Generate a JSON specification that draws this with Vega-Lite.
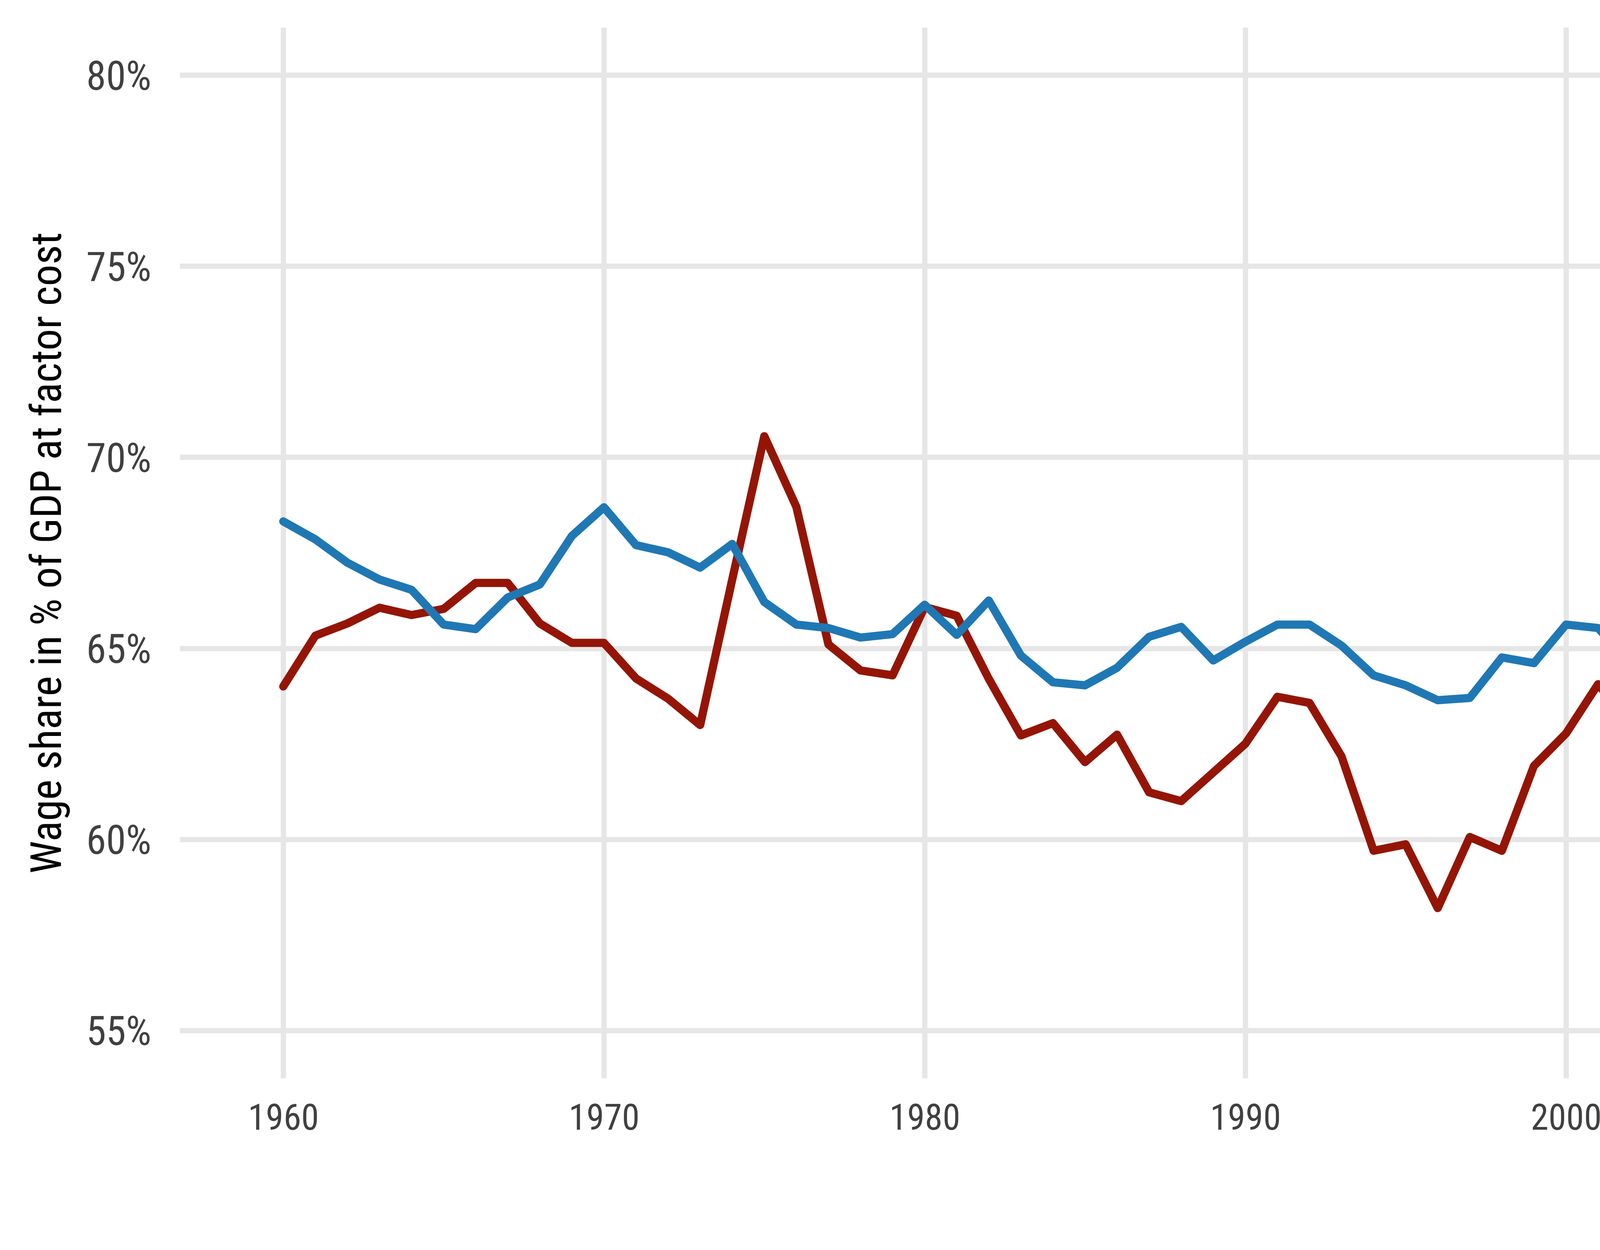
{
  "$schema": "https://vega.github.io/schema/vega-lite/v6.json",
  "width": 5869,
  "height": 2690,
  "autosize": {"type": "none"},
  "padding": {"left": 460, "top": 70, "right": 71, "bottom": 440},
  "background": "white",
  "config": {
    "font": "Roboto Condensed, DejaVu Sans Condensed, Liberation Sans Narrow, Roboto, sans-serif",
    "view": {"stroke": null}
  },
  "title": {
    "text": "Data: Ameco.",
    "orient": "bottom",
    "anchor": "end",
    "frame": "group",
    "fontSize": 74,
    "fontWeight": "normal",
    "color": "#000000",
    "offset": 84,
    "limit": 0
  },
  "data": {
    "values": [
      {"year": 1960, "country": "United Kingdom", "value": 64.0},
      {"year": 1961, "country": "United Kingdom", "value": 65.33},
      {"year": 1962, "country": "United Kingdom", "value": 65.65},
      {"year": 1963, "country": "United Kingdom", "value": 66.06},
      {"year": 1964, "country": "United Kingdom", "value": 65.87},
      {"year": 1965, "country": "United Kingdom", "value": 66.03},
      {"year": 1966, "country": "United Kingdom", "value": 66.71},
      {"year": 1967, "country": "United Kingdom", "value": 66.71},
      {"year": 1968, "country": "United Kingdom", "value": 65.65},
      {"year": 1969, "country": "United Kingdom", "value": 65.14},
      {"year": 1970, "country": "United Kingdom", "value": 65.14},
      {"year": 1971, "country": "United Kingdom", "value": 64.21},
      {"year": 1972, "country": "United Kingdom", "value": 63.68},
      {"year": 1973, "country": "United Kingdom", "value": 62.99},
      {"year": 1974, "country": "United Kingdom", "value": 66.8},
      {"year": 1975, "country": "United Kingdom", "value": 70.55},
      {"year": 1976, "country": "United Kingdom", "value": 68.7},
      {"year": 1977, "country": "United Kingdom", "value": 65.1},
      {"year": 1978, "country": "United Kingdom", "value": 64.42},
      {"year": 1979, "country": "United Kingdom", "value": 64.29},
      {"year": 1980, "country": "United Kingdom", "value": 66.08},
      {"year": 1981, "country": "United Kingdom", "value": 65.85},
      {"year": 1982, "country": "United Kingdom", "value": 64.2},
      {"year": 1983, "country": "United Kingdom", "value": 62.72},
      {"year": 1984, "country": "United Kingdom", "value": 63.04},
      {"year": 1985, "country": "United Kingdom", "value": 62.02},
      {"year": 1986, "country": "United Kingdom", "value": 62.74},
      {"year": 1987, "country": "United Kingdom", "value": 61.23},
      {"year": 1988, "country": "United Kingdom", "value": 61.0},
      {"year": 1989, "country": "United Kingdom", "value": 61.75},
      {"year": 1990, "country": "United Kingdom", "value": 62.5},
      {"year": 1991, "country": "United Kingdom", "value": 63.73},
      {"year": 1992, "country": "United Kingdom", "value": 63.57},
      {"year": 1993, "country": "United Kingdom", "value": 62.17},
      {"year": 1994, "country": "United Kingdom", "value": 59.7},
      {"year": 1995, "country": "United Kingdom", "value": 59.87},
      {"year": 1996, "country": "United Kingdom", "value": 58.2},
      {"year": 1997, "country": "United Kingdom", "value": 60.06},
      {"year": 1998, "country": "United Kingdom", "value": 59.7},
      {"year": 1999, "country": "United Kingdom", "value": 61.92},
      {"year": 2000, "country": "United Kingdom", "value": 62.77},
      {"year": 2001, "country": "United Kingdom", "value": 64.06},
      {"year": 2002, "country": "United Kingdom", "value": 63.02},
      {"year": 2003, "country": "United Kingdom", "value": 63.22},
      {"year": 2004, "country": "United Kingdom", "value": 64.45},
      {"year": 2005, "country": "United Kingdom", "value": 64.09},
      {"year": 2006, "country": "United Kingdom", "value": 64.58},
      {"year": 2007, "country": "United Kingdom", "value": 65.85},
      {"year": 2008, "country": "United Kingdom", "value": 64.74},
      {"year": 2009, "country": "United Kingdom", "value": 65.73},
      {"year": 2010, "country": "United Kingdom", "value": 66.21},
      {"year": 2011, "country": "United Kingdom", "value": 66.01},
      {"year": 2012, "country": "United Kingdom", "value": 65.73},
      {"year": 2013, "country": "United Kingdom", "value": 65.82},
      {"year": 2014, "country": "United Kingdom", "value": 64.95},
      {"year": 2015, "country": "United Kingdom", "value": 64.94},
      {"year": 2016, "country": "United Kingdom", "value": 65.21},
      {"year": 2017, "country": "United Kingdom", "value": 64.74},
      {"year": 2018, "country": "United Kingdom", "value": 65.02},
      {"year": 2019, "country": "United Kingdom", "value": 65.6},
      {"year": 2020, "country": "United Kingdom", "value": 65.1},
      {"year": 2021, "country": "United Kingdom", "value": 64.73},
      {"year": 2022, "country": "United Kingdom", "value": 64.73},
      {"year": 2023, "country": "United Kingdom", "value": 64.22},
      {"year": 1960, "country": "United States", "value": 68.32},
      {"year": 1961, "country": "United States", "value": 67.85},
      {"year": 1962, "country": "United States", "value": 67.24},
      {"year": 1963, "country": "United States", "value": 66.8},
      {"year": 1964, "country": "United States", "value": 66.53},
      {"year": 1965, "country": "United States", "value": 65.62},
      {"year": 1966, "country": "United States", "value": 65.5},
      {"year": 1967, "country": "United States", "value": 66.33},
      {"year": 1968, "country": "United States", "value": 66.67},
      {"year": 1969, "country": "United States", "value": 67.94},
      {"year": 1970, "country": "United States", "value": 68.69},
      {"year": 1971, "country": "United States", "value": 67.7},
      {"year": 1972, "country": "United States", "value": 67.51},
      {"year": 1973, "country": "United States", "value": 67.11},
      {"year": 1974, "country": "United States", "value": 67.73},
      {"year": 1975, "country": "United States", "value": 66.21},
      {"year": 1976, "country": "United States", "value": 65.62},
      {"year": 1977, "country": "United States", "value": 65.53},
      {"year": 1978, "country": "United States", "value": 65.28},
      {"year": 1979, "country": "United States", "value": 65.37},
      {"year": 1980, "country": "United States", "value": 66.14},
      {"year": 1981, "country": "United States", "value": 65.35},
      {"year": 1982, "country": "United States", "value": 66.25},
      {"year": 1983, "country": "United States", "value": 64.81},
      {"year": 1984, "country": "United States", "value": 64.11},
      {"year": 1985, "country": "United States", "value": 64.03},
      {"year": 1986, "country": "United States", "value": 64.49},
      {"year": 1987, "country": "United States", "value": 65.3},
      {"year": 1988, "country": "United States", "value": 65.56},
      {"year": 1989, "country": "United States", "value": 64.68},
      {"year": 1990, "country": "United States", "value": 65.17},
      {"year": 1991, "country": "United States", "value": 65.62},
      {"year": 1992, "country": "United States", "value": 65.62},
      {"year": 1993, "country": "United States", "value": 65.07},
      {"year": 1994, "country": "United States", "value": 64.29},
      {"year": 1995, "country": "United States", "value": 64.03},
      {"year": 1996, "country": "United States", "value": 63.64},
      {"year": 1997, "country": "United States", "value": 63.7},
      {"year": 1998, "country": "United States", "value": 64.76},
      {"year": 1999, "country": "United States", "value": 64.61},
      {"year": 2000, "country": "United States", "value": 65.62},
      {"year": 2001, "country": "United States", "value": 65.53},
      {"year": 2002, "country": "United States", "value": 64.61},
      {"year": 2003, "country": "United States", "value": 63.96},
      {"year": 2004, "country": "United States", "value": 63.51},
      {"year": 2005, "country": "United States", "value": 62.66},
      {"year": 2006, "country": "United States", "value": 62.53},
      {"year": 2007, "country": "United States", "value": 62.73},
      {"year": 2008, "country": "United States", "value": 62.73},
      {"year": 2009, "country": "United States", "value": 61.6},
      {"year": 2010, "country": "United States", "value": 60.55},
      {"year": 2011, "country": "United States", "value": 60.55},
      {"year": 2012, "country": "United States", "value": 60.44},
      {"year": 2013, "country": "United States", "value": 59.84},
      {"year": 2014, "country": "United States", "value": 60.05},
      {"year": 2015, "country": "United States", "value": 60.55},
      {"year": 2016, "country": "United States", "value": 60.55},
      {"year": 2017, "country": "United States", "value": 60.63},
      {"year": 2018, "country": "United States", "value": 60.55},
      {"year": 2019, "country": "United States", "value": 60.64},
      {"year": 2020, "country": "United States", "value": 60.32},
      {"year": 2021, "country": "United States", "value": 59.72},
      {"year": 2022, "country": "United States", "value": 59.44},
      {"year": 2023, "country": "United States", "value": 59.04}
    ]
  },
  "encoding": {
    "x": {
      "field": "year",
      "type": "quantitative",
      "scale": {"domain": [1956.77, 2028.26], "nice": false, "zero": false},
      "axis": {
        "values": [1960, 1970, 1980, 1990, 2000, 2010, 2020],
        "format": "d",
        "title": null,
        "domain": false,
        "ticks": false,
        "tickSize": 0,
        "grid": true,
        "gridColor": "#E6E6E6",
        "gridWidth": 13.5,
        "labelFontSize": 92,
        "labelColor": "#404040",
        "labelPadding": 58,
        "labelLimit": 0,
        "labelFlush": false,
        "labelOverlap": false
      }
    },
    "y": {
      "field": "value",
      "type": "quantitative",
      "scale": {"domain": [53.75, 81.25], "nice": false, "zero": false},
      "axis": {
        "values": [55, 60, 65, 70, 75, 80],
        "labelExpr": "datum.value + '%'",
        "title": "Wage share in % of GDP at factor cost",
        "titleFontSize": 110,
        "titleFontWeight": "normal",
        "titleColor": "#000000",
        "titleLimit": 0,
        "titleX": -338,
        "titleY": 1345,
        "titleAngle": 270,
        "titleAlign": "center",
        "titleBaseline": "middle",
        "domain": false,
        "ticks": false,
        "tickSize": 0,
        "grid": true,
        "gridColor": "#E6E6E6",
        "gridWidth": 13.5,
        "labelFontSize": 103,
        "labelColor": "#404040",
        "labelPadding": 73,
        "labelOffset": 6,
        "labelLimit": 0,
        "labelFlush": false,
        "labelOverlap": false
      }
    },
    "color": {
      "field": "country",
      "type": "nominal",
      "scale": {"domain": ["United Kingdom", "United States"], "range": ["#941506", "#1F78B4"]},
      "legend": null
    }
  },
  "layer": [
    {
      "mark": {"type": "line", "strokeWidth": 21, "strokeCap": "round", "strokeJoin": "round"}
    },
    {
      "transform": [{"filter": "datum.year == 2023"}],
      "mark": {
        "type": "text",
        "align": "left",
        "baseline": "middle",
        "dx": 30,
        "dy": -65,
        "fontSize": 128,
        "lineHeight": 154,
        "lineBreak": " ",
        "clip": true
      },
      "encoding": {
        "text": {"field": "country", "type": "nominal"}
      }
    }
  ]
}
